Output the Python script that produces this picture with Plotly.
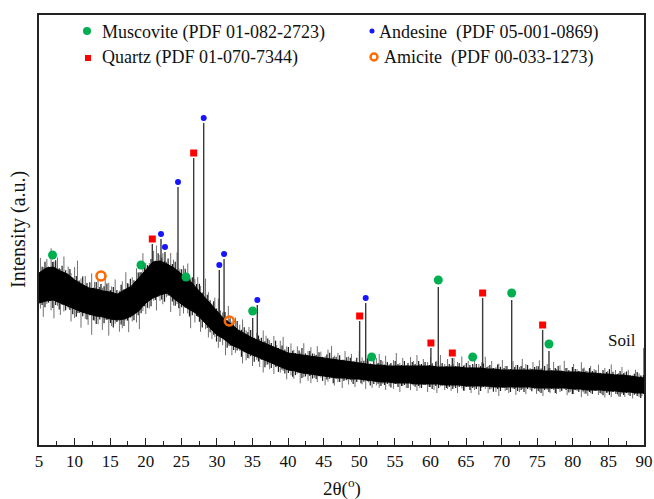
import numpy as np
import plotly.graph_objects as go

# ---- background band of the XRD pattern (2theta, upper / lower edge of dense noise core)
band_x = list(range(5, 91))
band_hi = [172, 177, 178, 174, 171, 165, 161, 157, 156, 154, 153, 151, 155, 159, 167, 175, 183, 184, 181, 177,
           171, 166, 158, 151, 142, 134, 126, 121, 115, 111, 107, 104, 101, 98, 95, 92, 91, 90, 89, 88,
           87, 86, 85, 84, 83, 82, 81, 80, 80, 79, 79, 79, 79, 79, 79, 79, 78, 78, 78, 78,
           77, 77, 77, 76, 76, 75, 75, 75, 75, 75, 75, 74, 74, 74, 73, 73, 73, 72, 72, 71,
           71, 70, 70, 69, 68, 67]
band_lo = [142, 144, 145, 142, 139, 136, 133, 131, 129, 128, 126, 125, 126, 129, 134, 142, 147, 150, 152, 146,
           141, 136, 132, 125, 117, 110, 106, 100, 97, 93, 90, 87, 84, 81, 78, 75, 74, 72, 71, 70,
           69, 68, 67, 67, 66, 66, 65, 64, 63, 63, 62, 62, 62, 61, 61, 61, 61, 60, 60, 60,
           59, 59, 59, 59, 58, 58, 58, 58, 58, 58, 57, 57, 57, 57, 57, 56, 56, 55, 55, 55,
           54, 54, 53, 53, 52, 52]

# ---- noise whiskers: 2theta and how far each pokes above / below the dense core
whisker_x = [5.2, 5.6, 6.1, 6.7, 7.1, 7.6, 8.0, 8.5, 9.1, 9.5,
             10.0, 10.4, 10.9, 11.5, 11.9, 12.4, 12.8, 13.3, 13.9, 14.3,
             14.8, 15.2, 15.7, 16.3, 16.7, 17.2, 17.6, 18.1, 18.7, 19.1,
             19.6, 20.0, 20.5, 21.1, 21.5, 22.0, 22.4, 22.9, 23.5, 23.9,
             24.4, 24.8, 25.3, 25.9, 26.3, 26.9, 27.3, 27.7, 28.4, 28.8,
             29.3, 29.7, 30.2, 30.8, 31.2, 31.6, 32.1, 32.6, 33.2, 33.6,
             34.1, 34.5, 35.0, 35.6, 36.0, 36.5, 36.9, 37.4, 38.0, 38.4,
             38.9, 39.3, 39.8, 40.4, 40.8, 41.3, 41.7, 42.2, 42.8, 43.2,
             43.7, 44.1, 44.6, 45.2, 45.6, 46.1, 46.5, 47.0, 47.6, 48.0,
             48.5, 48.9, 49.4, 50.0, 50.4, 50.9, 51.3, 51.8, 52.4, 52.8,
             53.3, 53.7, 54.2, 54.8, 55.2, 55.7, 56.1, 56.6, 57.2, 57.6,
             58.1, 58.5, 59.0, 59.6, 60.0, 60.5, 60.9, 61.4, 62.0, 62.4,
             62.9, 63.3, 63.8, 64.4, 64.8, 65.3, 65.7, 66.2, 66.8, 67.2,
             67.7, 68.1, 68.6, 69.2, 69.6, 70.1, 70.5, 71.0, 71.6, 72.0,
             72.5, 72.9, 73.4, 74.0, 74.4, 74.9, 75.3, 75.8, 76.4, 76.8,
             77.3, 77.7, 78.2, 78.8, 79.2, 79.7, 80.1, 80.6, 81.2, 81.6,
             82.1, 82.5, 83.0, 83.6, 84.0, 84.5, 84.9, 85.4, 86.0, 86.4,
             86.9, 87.3, 87.8, 88.4, 88.8, 89.3, 89.7, 89.95]
whisker_up = [14, 3, 9, 19, 6, 12, 2, 16, 8, 4,
              13, 21, 5, 10, 1, 15, 7, 11, 3, 18,
              9, 6, 14, 2, 10, 17, 4, 8, 12, 5,
              20, 7, 3, 11, 16, 6, 9, 2, 13, 8,
              18, 4, 10, 15, 3, 7, 12, 6, 19, 9,
              2, 11, 14, 5, 8, 16, 3, 10, 6, 13,
              4, 9, 15, 7, 2, 12, 8, 5, 11, 3,
              9, 14, 6, 10, 4, 8, 2, 12, 5, 9,
              3, 11, 6, 2, 9, 13, 4, 7, 1, 10,
              5, 8, 2, 12, 6, 3, 9, 1, 7, 11,
              4, 10, 2, 6, 13, 3, 8, 1, 9, 5,
              11, 2, 7, 4, 9, 1, 6, 12, 3, 8,
              2, 9, 5, 11, 3, 7, 1, 10, 4, 6,
              12, 3, 8, 2, 6, 10, 4, 1, 9, 5,
              3, 11, 6, 2, 8, 4, 10, 1, 7, 3,
              9, 2, 6, 11, 4, 1, 8, 3, 10, 5,
              2, 7, 4, 9, 1, 6, 3, 10, 5, 2,
              8, 3, 6, 1, 7, 4, 2, 30]
whisker_dn = [6, 15, 3, 10, 18, 4, 12, 7, 2, 14,
              9, 3, 16, 6, 11, 20, 5, 8, 13, 2,
              17, 7, 4, 12, 9, 2, 15, 6, 10, 19,
              5, 11, 8, 3, 14, 6, 10, 4, 16, 7,
              3, 13, 8, 5, 18, 10, 2, 14, 6, 11,
              9, 4, 12, 7, 15, 3, 10, 6, 2, 13,
              8, 5, 11, 3, 9, 13, 4, 7, 10, 2,
              6, 3, 10, 5, 8, 2, 11, 4, 7, 9,
              3, 7, 2, 9, 5, 1, 8, 4, 10, 2,
              6, 3, 8, 1, 5, 9, 2, 7, 4, 6,
              2, 8, 4, 6, 1, 9, 3, 5, 7, 2,
              7, 4, 1, 8, 3, 6, 9, 2, 5, 4,
              6, 2, 8, 3, 5, 1, 7, 4, 9, 2,
              3, 7, 2, 5, 9, 1, 4, 6, 2, 8,
              5, 2, 7, 3, 1, 6, 4, 8, 2, 5,
              2, 6, 4, 1, 7, 3, 5, 2, 8, 4,
              6, 3, 1, 5, 4, 7, 2, 6, 3, 5,
              2, 5, 3, 6, 1, 4, 3, 0]
# shorter, darker streaks lying between the whiskers above
streak_up = [4, 7, 1, 5, 8, 2, 6, 3, 7, 1,
             5, 2, 8, 4, 6, 1, 7, 3, 5, 8,
             2, 6, 4, 7, 1, 5, 8, 3, 6, 2,
             7, 3, 5, 1, 8, 4, 2, 6, 3, 7,
             1, 5, 8, 2, 6, 4, 7, 1, 5, 3,
             6, 2, 4, 7, 1, 5, 3, 8, 2, 6,
             3, 7, 1, 5, 4, 2, 6, 3, 7, 1,
             5, 2, 6, 3, 1, 4, 7, 2, 5, 3,
             2, 5, 1, 4, 6, 2, 3, 5, 1, 4,
             4, 1, 5, 2, 3, 6, 1, 4, 2, 5,
             1, 4, 3, 5, 2, 1, 5, 3, 4, 2,
             5, 2, 4, 1, 3, 5, 2, 4, 1, 3,
             3, 1, 4, 2, 5, 3, 1, 4, 2, 5,
             2, 4, 1, 5, 3, 2, 4, 1, 3, 5,
             4, 2, 5, 1, 3, 4, 2, 5, 3, 1,
             3, 5, 1, 4, 2, 5, 3, 1, 4, 2,
             5, 2, 3, 1, 4, 2, 5, 3, 1, 4,
             2, 4, 1, 3, 5, 2, 3, 0]
streak_dn = [3, 6, 2, 8, 4, 7, 1, 5, 3, 6,
             7, 2, 4, 6, 1, 5, 8, 3, 6, 2,
             4, 8, 2, 5, 7, 3, 1, 6, 4, 5,
             2, 6, 7, 3, 1, 5, 8, 2, 4, 6,
             6, 3, 1, 7, 4, 2, 5, 8, 3, 4,
             3, 7, 5, 1, 6, 2, 4, 3, 7, 1,
             5, 2, 6, 4, 1, 7, 3, 5, 2, 6,
             2, 5, 3, 6, 4, 1, 5, 3, 2, 4,
             4, 1, 5, 3, 2, 6, 1, 4, 3, 2,
             1, 5, 3, 4, 2, 1, 5, 3, 2, 4,
             3, 2, 5, 1, 4, 3, 2, 5, 1, 3,
             2, 4, 1, 3, 5, 2, 4, 1, 3, 2,
             4, 3, 2, 5, 1, 4, 2, 3, 5, 1,
             1, 3, 5, 2, 4, 1, 3, 5, 2, 4,
             3, 5, 2, 4, 1, 3, 5, 2, 4, 1,
             5, 1, 3, 2, 4, 5, 1, 3, 2, 4,
             2, 4, 1, 3, 5, 2, 4, 1, 3, 5,
             3, 1, 4, 2, 3, 5, 1, 0]

# ---- indexed reflections (2theta, peak intensity)
musc_pos = [6.9, 19.33, 25.65, 35.02, 51.74, 61.1, 65.93, 71.41, 76.65]
musc_int = [183, 173, 161, 127, 81, 158, 81, 145, 94]
ande_pos = [22.14, 22.7, 24.53, 28.14, 30.33, 31.0, 35.67, 50.9]
ande_int = [206, 193, 258, 322, 175, 186, 140, 142]
quartz_pos = [20.92, 26.73, 50.05, 60.06, 63.07, 67.33, 75.76]
quartz_int = [201, 287, 124, 97, 87, 147, 115]
amic_pos = [13.71, 31.74]
amic_int = [161, 116]

phases = [
    ("Muscovite (PDF 01-082-2723)", musc_pos, musc_int, dict(symbol="circle", size=9, color="#00b050"), 7),
    ("Andesine  (PDF 05-001-0869)", ande_pos, ande_int, dict(symbol="circle", size=6, color="#1515ff"), 5),
    ("Quartz (PDF 01-070-7344)", quartz_pos, quartz_int, dict(symbol="square", size=7, color="#ff0000"), 5),
    ("Amicite  (PDF 00-033-1273)", amic_pos, amic_int,
     dict(symbol="circle-open", size=9, color="#ff6a00", line=dict(width=2.6, color="#ff6a00")), 8),
]

fig = go.Figure()


def whiskers(xs, up, dn, shift):
    ox, oy = [], []
    for x, u, d in zip(xs, up, dn):
        xx = x + shift
        top = float(np.interp(xx, band_x, band_hi))
        bot = float(np.interp(xx, band_x, band_lo))
        ox += [xx, xx, None]
        oy += [bot - d, top + u, None]
    return ox, oy


wx, wy = whiskers(whisker_x, whisker_up, whisker_dn, 0.0)
fig.add_trace(go.Scatter(x=wx, y=wy, mode="lines", line=dict(color="#707070", width=1),
                         hoverinfo="skip", showlegend=False))
sx, sy = whiskers(whisker_x, streak_up, streak_dn, 0.24)
fig.add_trace(go.Scatter(x=sx, y=sy, mode="lines", line=dict(color="#1e1e1e", width=1.2),
                         hoverinfo="skip", showlegend=False))

# peak lines
mid = [(a + b) / 2 for a, b in zip(band_hi, band_lo)]
px, py = [], []
for _, pos, inten, _, _ in phases:
    for p, h in zip(pos, inten):
        px += [p, p, None]
        py += [float(np.interp(p, band_x, mid)), h, None]
fig.add_trace(go.Scatter(x=px, y=py, mode="lines", line=dict(color="#3a3a3a", width=1.4),
                         hoverinfo="skip", showlegend=False))

# dense noise core
fig.add_trace(go.Scatter(x=band_x + band_x[::-1], y=band_hi + band_lo[::-1], mode="lines",
                         fill="toself", fillcolor="#000000", line=dict(color="#000000", width=1),
                         hoverinfo="skip", showlegend=False))

# phase markers
for name, pos, inten, mk, off in phases:
    fig.add_trace(go.Scatter(x=pos, y=[h + off for h in inten], mode="markers", marker=mk,
                             name=name, showlegend=False))

# legend drawn as shapes + text
L, R, T, B = 39, 644, 15, 445


def pxf(x):
    return (x - L) / (R - L)


def pyf(y):
    return (B - y) / (B - T)


shapes = [
    dict(type="circle", xref="paper", yref="paper", xsizemode="pixel", ysizemode="pixel",
         xanchor=pxf(87), yanchor=pyf(31), x0=-4, x1=4, y0=-4, y1=4,
         fillcolor="#00b050", line=dict(width=0)),
    dict(type="circle", xref="paper", yref="paper", xsizemode="pixel", ysizemode="pixel",
         xanchor=pxf(372), yanchor=pyf(31), x0=-2.5, x1=2.5, y0=-2.5, y1=2.5,
         fillcolor="#1515ff", line=dict(width=0)),
    dict(type="rect", xref="paper", yref="paper", xsizemode="pixel", ysizemode="pixel",
         xanchor=pxf(88), yanchor=pyf(58), x0=-3, x1=3, y0=-3, y1=3,
         fillcolor="#ff0000", line=dict(width=0)),
    dict(type="circle", xref="paper", yref="paper", xsizemode="pixel", ysizemode="pixel",
         xanchor=pxf(374), yanchor=pyf(57), x0=-3.5, x1=3.5, y0=-3.5, y1=3.5,
         fillcolor="rgba(0,0,0,0)", line=dict(width=2.4, color="#ff6a00")),
]

font = "Liberation Serif, Times New Roman, serif"
ann = []
for txt, x, y in [("Muscovite (PDF 01-082-2723)", 100, 32), ("Andesine  (PDF 05-001-0869)", 377, 32),
                  ("Quartz (PDF 01-070-7344)", 100, 58), ("Amicite  (PDF 00-033-1273)", 382, 58)]:
    ann.append(dict(text=txt, xref="paper", yref="paper", x=pxf(x), y=pyf(y), xanchor="left",
                    yanchor="middle", showarrow=False, font=dict(family=font, size=18, color="#111")))
ann.append(dict(text="Soil", xref="paper", yref="paper", x=pxf(622), y=pyf(340), xanchor="center",
                yanchor="middle", showarrow=False, font=dict(family=font, size=17, color="#111")))
ann.append(dict(text="Intensity (a.u.)", xref="paper", yref="paper", x=0, y=0.5, xshift=-21,
                textangle=-90, xanchor="center", yanchor="middle", showarrow=False,
                font=dict(family=font, size=20, color="#111")))
ann.append(dict(text="2θ(<sup>o</sup>)", xref="paper", yref="paper", x=0.5, y=0, yshift=-42,
                xanchor="center", yanchor="middle", showarrow=False,
                font=dict(family=font, size=19, color="#111")))

fig.update_layout(
    width=654, height=499,
    margin=dict(l=L, r=654 - R, t=T, b=499 - B),
    paper_bgcolor="white", plot_bgcolor="white",
    showlegend=False,
    shapes=shapes, annotations=ann,
    font=dict(family=font, color="#111"),
    xaxis=dict(range=[5, 90], tickmode="linear", tick0=5, dtick=5, ticks="inside", ticklen=7,
               tickwidth=1.3, tickcolor="#222", showline=True, linecolor="#222", linewidth=1.5,
               mirror=True, showgrid=False, zeroline=False, automargin=False,
               tickfont=dict(family=font, size=17, color="#111"),
               minor=dict(dtick=2.5, tick0=5, ticks="inside", ticklen=4, tickwidth=1.2,
                          tickcolor="#222", showgrid=False)),
    yaxis=dict(range=[0, 430], showticklabels=False, ticks="", showline=True, linecolor="#222",
               linewidth=1.5, mirror=True, showgrid=False, zeroline=False, automargin=False),
)

fig.write_html("out.html", post_script="document.body.style.margin='0';",
               config={"displayModeBar": False})
